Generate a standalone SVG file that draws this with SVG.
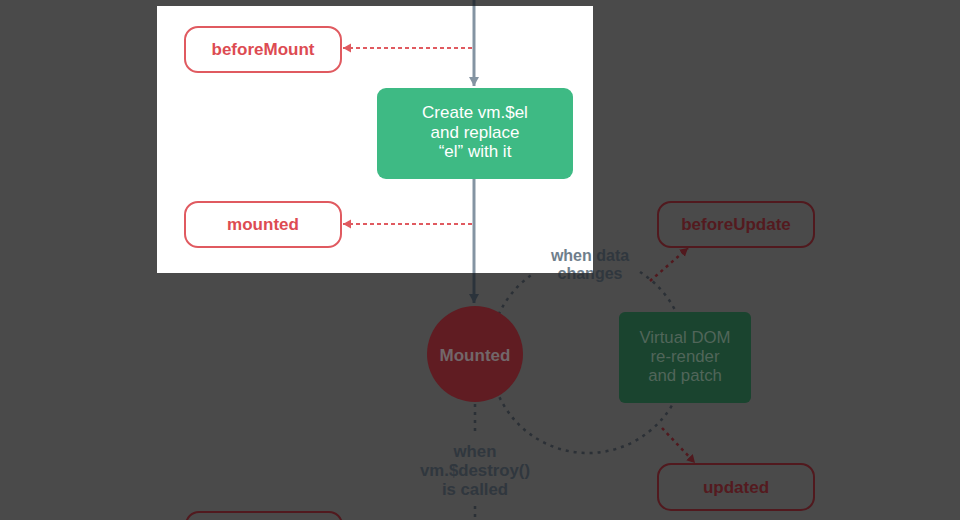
<svg xmlns="http://www.w3.org/2000/svg" width="960" height="520" viewBox="0 0 960 520">
<defs>
<style>
text{font-family:"Liberation Sans",Arial,sans-serif;text-anchor:middle;dominant-baseline:central}
.hook{font-weight:700;font-size:17px}
.boxtxt{font-size:17px}
.vd{font-size:16.8px}
.lbl{font-weight:700;font-size:16px}
.lbl2{font-weight:700;font-size:16.8px}
</style>
<pattern id="splitLine" patternUnits="userSpaceOnUse" x="0" y="0" width="960" height="520">
<rect width="960" height="520" fill="#2b333b"/>
<rect x="157" y="6" width="436" height="267" fill="#8494a2"/>
</pattern>
<pattern id="splitText" patternUnits="userSpaceOnUse" x="0" y="0" width="960" height="520">
<rect width="960" height="520" fill="#30373e"/>
<rect x="157" y="6" width="436" height="267" fill="#6f7e8b"/>
</pattern>
<marker id="arrSlateL" markerUnits="userSpaceOnUse" markerWidth="12" markerHeight="10" refX="9" refY="5" orient="auto" viewBox="0 0 12 10"><path d="M0,0 L9,5 L0,10 Z" fill="#8494a2"/></marker>
<marker id="arrSlateD" markerUnits="userSpaceOnUse" markerWidth="12" markerHeight="10" refX="9" refY="5" orient="auto" viewBox="0 0 12 10"><path d="M0,0 L9,5 L0,10 Z" fill="#2b333b"/></marker>
<marker id="arrRed" markerUnits="userSpaceOnUse" markerWidth="10" markerHeight="10" refX="8" refY="5" orient="auto" viewBox="0 0 10 10"><path d="M0,0.5 L8,5 L0,9.5 Z" fill="#e05a60"/></marker>
<marker id="arrRedD" markerUnits="userSpaceOnUse" markerWidth="10" markerHeight="10" refX="8" refY="5" orient="auto" viewBox="0 0 10 10"><path d="M0,0.5 L8,5 L0,9.5 Z" fill="#51191e"/></marker>
</defs>
<rect width="960" height="520" fill="#4a4a4a"/>
<rect x="157" y="6" width="436" height="267" fill="#ffffff"/>
<g id="connectors" fill="none">
<line x1="474" y1="0" x2="474" y2="86" stroke="url(#splitLine)" stroke-width="3" marker-end="url(#arrSlateL)"/>
<line x1="474" y1="179" x2="474" y2="303" stroke="url(#splitLine)" stroke-width="3" marker-end="url(#arrSlateD)"/>
<line x1="472" y1="48" x2="343" y2="48" stroke="#e05a60" stroke-width="2" stroke-dasharray="4 3" marker-end="url(#arrRed)"/>
<line x1="472" y1="224" x2="343" y2="224" stroke="#e05a60" stroke-width="2" stroke-dasharray="4 3" marker-end="url(#arrRed)"/>
<path d="M640,272 A98,98 0 1 1 534.6,272.8" stroke="#2b3036" stroke-width="2.5" stroke-dasharray="3 5"/>
<line x1="650" y1="281" x2="688" y2="248" stroke="#51191e" stroke-width="2.5" stroke-dasharray="3 4" marker-end="url(#arrRedD)"/>
<line x1="662" y1="428" x2="695" y2="463" stroke="#51191e" stroke-width="2.5" stroke-dasharray="3 4" marker-end="url(#arrRedD)"/>
<line x1="475" y1="404" x2="475" y2="436" stroke="#2b3036" stroke-width="2.5" stroke-dasharray="3 5"/>
<line x1="475" y1="506" x2="475" y2="520" stroke="#2b3036" stroke-width="2.5" stroke-dasharray="3 5"/>
</g>
<g id="node-beforeMount">
<rect x="185" y="27" width="156" height="45" rx="13" fill="#ffffff" stroke="#e05a60" stroke-width="2"/>
<text class="hook" x="263" y="49" fill="#dd4b52">beforeMount</text>
</g>
<g id="node-create">
<rect x="377" y="88" width="196" height="91" rx="9" fill="#3eba84"/>
<text class="boxtxt" fill="#ffffff"><tspan x="475" y="112">Create vm.$el</tspan><tspan x="475" y="131.5">and replace</tspan><tspan x="475" y="151">“el” with it</tspan></text>
</g>
<g id="node-mounted-hook">
<rect x="185" y="202" width="156" height="45" rx="13" fill="#ffffff" stroke="#e05a60" stroke-width="2"/>
<text class="hook" x="263" y="224" fill="#dd4b52">mounted</text>
</g>
<g id="node-beforeUpdate">
<rect x="658" y="202" width="156" height="45" rx="13" fill="#4a4a4a" stroke="#51191e" stroke-width="2"/>
<text class="hook" x="736" y="224" fill="#541a1f">beforeUpdate</text>
</g>
<g id="node-updated">
<rect x="658" y="464" width="156" height="46" rx="13" fill="#4a4a4a" stroke="#51191e" stroke-width="2"/>
<text class="hook" x="736" y="487" fill="#541a1f">updated</text>
</g>
<g id="node-beforeDestroy">
<rect x="186" y="512" width="156" height="45" rx="13" fill="#4a4a4a" stroke="#51191e" stroke-width="2"/>
</g>
<g id="node-Mounted">
<circle cx="475" cy="354" r="48" fill="#601c22"/>
<text class="hook" x="475" y="355" fill="#72676a">Mounted</text>
</g>
<g id="node-vdom">
<rect x="619" y="312" width="132" height="91" rx="6" fill="#1a442f"/>
<text class="vd" fill="#51665a"><tspan x="685" y="337">Virtual DOM</tspan><tspan x="685" y="356">re-render</tspan><tspan x="685" y="375">and patch</tspan></text>
</g>
<g id="labels">
<text class="lbl" fill="url(#splitText)"><tspan x="590" y="255">when data</tspan><tspan x="590" y="273">changes</tspan></text>
<text class="lbl2" fill="#30373e"><tspan x="475" y="451">when</tspan><tspan x="475" y="470">vm.$destroy()</tspan><tspan x="475" y="489">is called</tspan></text>
</g>
</svg>
